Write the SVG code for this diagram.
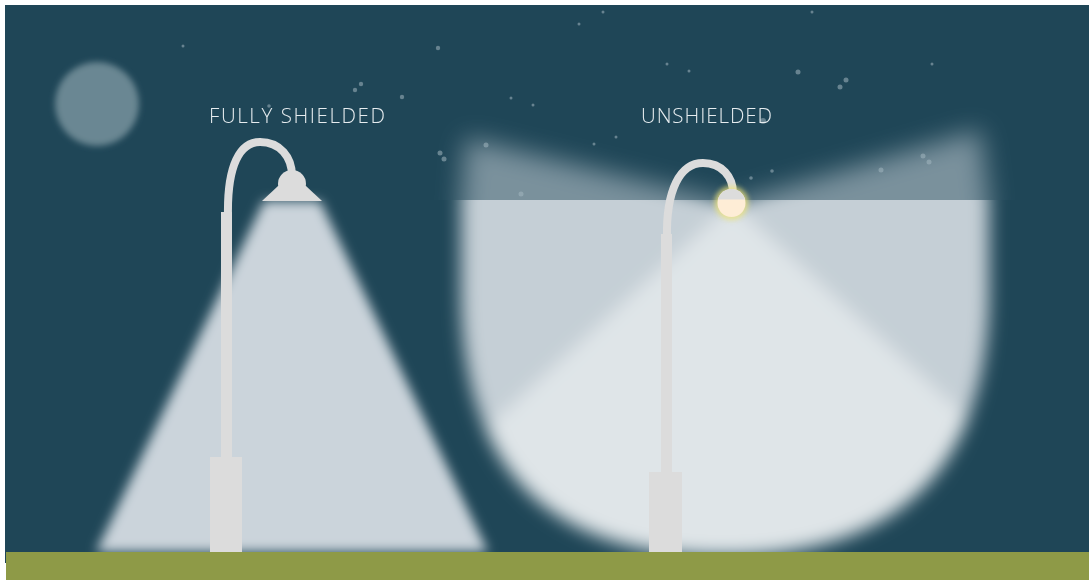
<svg xmlns="http://www.w3.org/2000/svg" xmlns:xlink="http://www.w3.org/1999/xlink" width="1089" height="580" viewBox="0 0 1089 580">
  <style>
    .sky { fill: #1f4657; }
    .ground { fill: #8e9a47; }
    .metal { fill: #dcdcdc; }
    .arm { fill: none; stroke: #dcdcdc; stroke-width: 8; stroke-linecap: butt; }
    .star { fill: #a3b6bf; opacity: 0.55; }
    .label { font-family: "Open Sans", "Liberation Sans", sans-serif; font-size: 20.5px; font-weight: 300; fill: #e6ecef; }
  </style>
  <defs>
    <filter id="blurMoon" x="-20%" y="-20%" width="140%" height="140%"><feGaussianBlur stdDeviation="3"/></filter>
    <filter id="blurCone" x="-10%" y="-10%" width="120%" height="120%"><feGaussianBlur stdDeviation="6"/></filter>
    <filter id="blurWide" x="-10%" y="-15%" width="120%" height="130%"><feGaussianBlur stdDeviation="9"/></filter>
    <filter id="blurSky" x="-15%" y="-20%" width="130%" height="140%"><feGaussianBlur stdDeviation="13"/></filter>
    <filter id="blurGlow" x="-50%" y="-50%" width="200%" height="200%"><feGaussianBlur stdDeviation="2.5"/></filter>
    <filter id="blurStar" x="-100%" y="-100%" width="300%" height="300%"><feGaussianBlur stdDeviation="0.6"/></filter>

    <!-- outline of the light thrown by the bare bulb -->
    <path id="spillShape" d="M732,203 L466,138 L461,200 L461,290 C461,460 540,556 723,556 C906,556 989,460 989,290 L989,200 L980,130 Z"/>
    <clipPath id="spillClip"><use xlink:href="#spillShape"/></clipPath>
    <clipPath id="aboveHorizon"><rect x="0" y="0" width="1089" height="200"/></clipPath>
    <clipPath id="belowHorizon"><rect x="0" y="200" width="1089" height="380"/></clipPath>
    <clipPath id="globeTop"><rect x="710" y="180" width="45" height="19.5"/></clipPath>

    <!-- downward cone of the bare bulb, kept inside the spill outline -->
    <polygon id="bulbCone" points="732,203 1047,490 1047,600 419,600 419,490" fill="#dfe5e8" clip-path="url(#spillClip)"/>

    <g id="spillLight" filter="url(#blurWide)">
      <use xlink:href="#spillShape" fill="#c5cfd6"/>
      <use xlink:href="#bulbCone"/>
    </g>
    <g id="skyGlow" filter="url(#blurSky)">
      <use xlink:href="#spillShape" fill="#c5cfd6"/>
    </g>
  </defs>

  <!-- night sky -->
  <rect class="sky" x="5" y="5" width="1084" height="558"/>

  <!-- moon -->
  <circle id="moon" cx="97" cy="104" r="42" fill="#6a8793" filter="url(#blurMoon)"/>

  <!-- light from the fully shielded fixture: all downward -->
  <g id="shielded-light">
    <polygon points="264,201 320,201 488,552 96,552" fill="#cbd4db" filter="url(#blurCone)"/>
  </g>

  <!-- light from the unshielded fixture: spills sideways and upward -->
  <g id="unshielded-light">
    <use xlink:href="#skyGlow" clip-path="url(#aboveHorizon)" opacity="0.55"/>
    <use xlink:href="#spillLight" clip-path="url(#belowHorizon)"/>
  </g>

  <!-- stars -->
  <g id="stars" filter="url(#blurStar)">
    <circle class="star" cx="183" cy="46" r="1.5"/>
    <circle class="star" cx="438" cy="48" r="2.2"/>
    <circle class="star" cx="579" cy="24" r="1.5"/>
    <circle class="star" cx="603" cy="12" r="1.5"/>
    <circle class="star" cx="812" cy="12" r="1.5"/>
    <circle class="star" cx="667" cy="64" r="1.5"/>
    <circle class="star" cx="689" cy="71" r="1.5"/>
    <circle class="star" cx="798" cy="72" r="2.5"/>
    <circle class="star" cx="846" cy="80" r="2.5"/>
    <circle class="star" cx="840" cy="87" r="2.5"/>
    <circle class="star" cx="932" cy="64" r="1.5"/>
    <circle class="star" cx="361" cy="84" r="2.2"/>
    <circle class="star" cx="355" cy="90" r="2.2"/>
    <circle class="star" cx="402" cy="97" r="2.2"/>
    <circle class="star" cx="511" cy="98" r="1.5"/>
    <circle class="star" cx="533" cy="105" r="1.5"/>
    <circle class="star" cx="269" cy="106" r="1.8"/>
    <circle class="star" cx="763" cy="121" r="3"/>
    <circle class="star" cx="440" cy="153" r="2.5"/>
    <circle class="star" cx="444" cy="159" r="2.5"/>
    <circle class="star" cx="486" cy="145" r="2.5"/>
    <circle class="star" cx="594" cy="144" r="1.5"/>
    <circle class="star" cx="616" cy="137" r="1.5"/>
    <circle class="star" cx="521" cy="194" r="2.5"/>
    <circle class="star" cx="751" cy="178" r="1.8"/>
    <circle class="star" cx="772" cy="171" r="1.8"/>
    <circle class="star" cx="881" cy="170" r="2.5"/>
    <circle class="star" cx="923" cy="156" r="2.5"/>
    <circle class="star" cx="929" cy="162" r="2.5"/>
  </g>

  <!-- ground -->
  <rect class="ground" x="6" y="552" width="1083" height="28"/>

  <!-- fully shielded street lamp -->
  <g id="lamp-shielded">
    <rect class="metal" x="221" y="212" width="11" height="246"/>
    <rect class="metal" x="210" y="457" width="32" height="95"/>
    <path class="arm" d="M228,216 C227,165 240,142 260,142 C280,142 292,157 292,176"/>
    <circle class="metal" cx="292" cy="184" r="14"/>
    <polygon class="metal" points="262,201 322,201 306,186 278,186"/>
  </g>

  <!-- unshielded street lamp -->
  <g id="lamp-unshielded">
    <rect class="metal" x="661" y="234" width="11" height="239"/>
    <rect class="metal" x="649" y="472" width="33" height="80"/>
    <path class="arm" d="M667,238 C666,190 680,163 703,163 C722,163 733,177 733,193"/>
    <circle cx="731.5" cy="203" r="17" fill="#eee47c" opacity="0.75" filter="url(#blurGlow)"/>
    <circle cx="731.5" cy="203" r="14" fill="#feedd6"/>
    <circle class="metal" cx="731.5" cy="203" r="14" clip-path="url(#globeTop)"/>
  </g>

  <!-- captions -->
  <g id="captions">
    <text class="label" x="209" y="123" textLength="176" lengthAdjust="spacing">FULLY SHIELDED</text>
    <text class="label" x="641" y="123" textLength="131" lengthAdjust="spacing">UNSHIELDED</text>
  </g>
</svg>
